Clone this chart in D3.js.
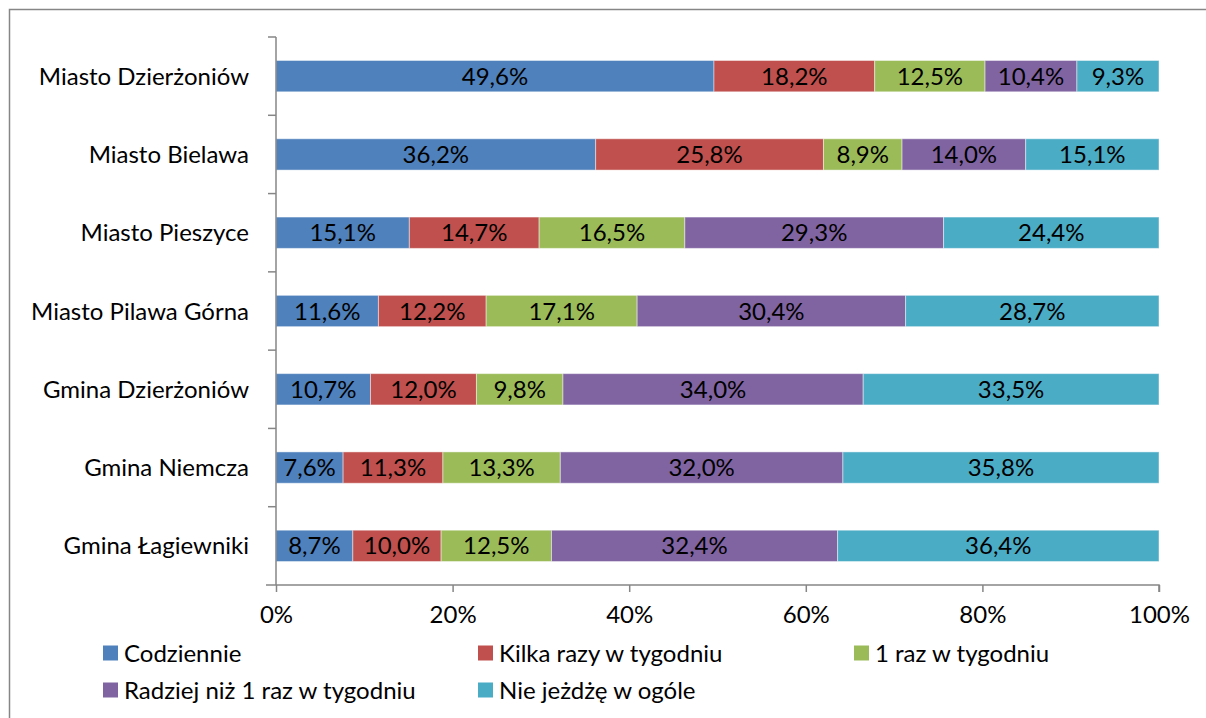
<!DOCTYPE html>
<html>
<head>
<meta charset="utf-8">
<script src="https://cdn.jsdelivr.net/npm/d3@7"></script>
<style>
  body { margin: 0; background: #fff; }
  svg text { font-family: Lato, 'Open Sans', sans-serif; fill: #000; }
</style>
</head>
<body>
<script>
const categories = ['Miasto Dzierżoniów', 'Miasto Bielawa', 'Miasto Pieszyce', 'Miasto Pilawa Górna',
  'Gmina Dzierżoniów', 'Gmina Niemcza', 'Gmina Łagiewniki']
const seriesNames = ['Codziennie', 'Kilka razy w tygodniu', '1 raz w tygodniu',
  'Radziej niż 1 raz w tygodniu', 'Nie jeżdżę w ogóle']
const codziennie = [49.6, 36.2, 15.1, 11.6, 10.7, 7.6, 8.7]
const kilkaRazy = [18.2, 25.8, 14.7, 12.2, 12.0, 11.3, 10.0]
const razWTygodniu = [12.5, 8.9, 16.5, 17.1, 9.8, 13.3, 12.5]
const rzadziej = [10.4, 14.0, 29.3, 30.4, 34.0, 32.0, 32.4]
const nieJezdze = [9.3, 15.1, 24.4, 28.7, 33.5, 35.8, 36.4]
const xTicks = [0, 20, 40, 60, 80, 100]
const colors = ['#4f81bd', '#c0504d', '#9bbb59', '#8064a2', '#4bacc6']

const seriesValues = [codziennie, kilkaRazy, razWTygodniu, rzadziej, nieJezdze]
const table = categories.map((c, i) => {
  const row = {cat: c}
  seriesNames.forEach((s, j) => { row[s] = seriesValues[j][i] })
  return row
})
const stacked = d3.stack().keys(seriesNames)(table)

const W = 1206, H = 718
const margin = {top: 37, left: 276, right: 47, bottom: 133}
const width = W - margin.left - margin.right
const height = H - margin.top - margin.bottom
const fontSize = '24px'

const svg = d3.select('body').append('svg')
  .attr('width', W).attr('height', H)

// chart border
svg.append('rect')
  .attr('x', 9.5).attr('y', 9.5)
  .attr('width', W + 20).attr('height', H + 20)
  .attr('fill', 'none').attr('stroke', '#868686').attr('stroke-width', 1.5)

const g = svg.append('g').attr('transform', `translate(${margin.left}, ${margin.top})`)

const x = d3.scaleLinear().domain([0, 100]).range([0, width])
const y = d3.scaleBand().domain(categories).range([0, height]).paddingInner(0.6).paddingOuter(0.3)

// bars
const layers = g.selectAll('g.layer').data(stacked).enter()
  .append('g').attr('class', 'layer')
  .attr('fill', (d, i) => colors[i])

layers.selectAll('rect').data(d => d).enter()
  .append('rect')
  .attr('x', d => x(d[0]))
  .attr('y', d => y(d.data.cat))
  .attr('width', d => x(d[1]) - x(d[0]))
  .attr('height', y.bandwidth())
  .attr('stroke', 'rgba(255,255,255,0.45)')
  .attr('stroke-width', 1)

// data labels
layers.selectAll('text').data(d => d.map(v => ({v, key: d.key}))).enter()
  .append('text')
  .attr('x', d => (x(d.v[0]) + x(d.v[1])) / 2)
  .attr('y', d => y(d.v.data.cat) + y.bandwidth() / 2)
  .attr('dy', '0.36em')
  .attr('text-anchor', 'middle')
  .style('font-size', fontSize)
  .text(d => d.v.data[d.key].toFixed(1).replace('.', ',') + '%')

// x axis
const xAxis = g.append('g')
  .attr('transform', `translate(0, ${height})`)
  .call(d3.axisBottom(x).tickValues(xTicks).tickSize(7).tickPadding(14)
    .tickFormat(d => d + '%'))
xAxis.select('.domain').attr('d', `M-10,0H${width}V7`)
// y axis
const band = height / categories.length
const yAxis = g.append('g')
yAxis.append('line').attr('x1', 0).attr('x2', 0).attr('y1', 0).attr('y2', height)
yAxis.selectAll('line.tick').data(d3.range(categories.length)).enter()
  .append('line').attr('class', 'tick')
  .attr('x1', -8).attr('x2', 0)
  .attr('y1', i => i * band).attr('y2', i => i * band)
yAxis.selectAll('text').data(categories).enter()
  .append('text')
  .attr('x', -27)
  .attr('y', d => y(d) + y.bandwidth() / 2)
  .attr('dy', '0.36em')
  .attr('text-anchor', 'end')
  .style('font-size', fontSize)
  .text(d => d)

svg.selectAll('.domain, .tick line, line').attr('stroke', '#868686').attr('stroke-width', 1.5)
xAxis.selectAll('text').style('font-size', fontSize).attr('fill', '#000')

// legend
const legendPos = [[103, 653], [478, 653], [854, 653], [103, 690], [478, 690]]
const legend = svg.append('g').selectAll('g').data(seriesNames).enter()
  .append('g')
  .attr('transform', (d, i) => `translate(${legendPos[i][0]}, ${legendPos[i][1]})`)
legend.append('rect')
  .attr('x', 0).attr('y', -7.5).attr('width', 15).attr('height', 15)
  .attr('fill', (d, i) => colors[i])
legend.append('text')
  .attr('x', 21).attr('dy', '0.36em')
  .style('font-size', fontSize)
  .text(d => d)
</script>
</body>
</html>
